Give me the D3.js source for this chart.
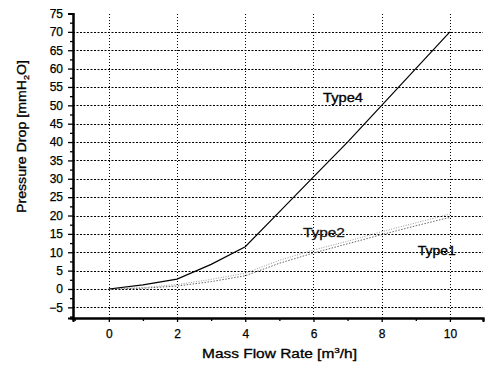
<!DOCTYPE html>
<html>
<head>
<meta charset="utf-8">
<script src="https://cdn.jsdelivr.net/npm/d3@7"></script>
<style>
  body { margin: 0; background: #fff; }
  text { font-family: "Liberation Sans", Arial, sans-serif; fill: #000; }
</style>
</head>
<body>
<div id="chart"></div>
<script>
// flow rate [m3/h]
let flow = [0, 1, 2, 3, 4, 5, 6, 7, 8, 9, 10];
// pressure drop [mmH2O]
let type4 = [0, 1.1, 2.7, 6.7, 11.5, 21, 30.5, 40, 50, 60, 70];
let type2 = [0, 0.4, 1.2, 2.6, 4.3, 7.8, 10.6, 13, 15.6, 18, 20.4];
let type1 = [0, 0.2, 0.8, 2.0, 3.6, 7.0, 9.8, 12.3, 14.8, 17.2, 19.5];
let xTicks = [0, 2, 4, 6, 8, 10];
let yTicks = [-5, 0, 5, 10, 15, 20, 25, 30, 35, 40, 45, 50, 55, 60, 65, 70, 75];

let width = 487, height = 371;

let x = d3.scaleLinear().domain([-1.05, 10.97]).range([73, 483]);
let y = d3.scaleLinear().domain([-7.9, 75]).range([318, 13.5]);

let svg = d3.select("#chart")
  .append("svg")
  .attr("width", width)
  .attr("height", height);

/* ------------------ Grid ------------------ */
svg.append("g")
  .selectAll("line")
  .data(yTicks.filter(d => d < 75))
  .enter()
  .append("line")
  .attr("x1", x.range()[0])
  .attr("x2", x.range()[1])
  .attr("y1", d => Math.round(y(d)) + 0.5)
  .attr("y2", d => Math.round(y(d)) + 0.5)
  .attr("stroke", "#000")
  .attr("stroke-width", 1)
  .attr("stroke-dasharray", "2,1.5");

svg.append("g")
  .selectAll("line")
  .data(xTicks)
  .enter()
  .append("line")
  .attr("x1", d => Math.round(x(d)) + 0.5)
  .attr("x2", d => Math.round(x(d)) + 0.5)
  .attr("y1", y.range()[0])
  .attr("y2", y.range()[1])
  .attr("stroke", "#000")
  .attr("stroke-width", 1)
  .attr("stroke-dasharray", "1,2");

/* ------------------ Axes ------------------ */
let yAxis = d3.axisLeft(y)
  .tickValues(yTicks)
  .tickSize(5)
  .tickPadding(5);
let yMinor = d3.axisLeft(y)
  .tickValues(yTicks.map(d => d - 2.5).filter(d => d > -7.9))
  .tickSize(3)
  .tickFormat("");

let xAxis = d3.axisBottom(x)
  .tickValues(xTicks)
  .tickSize(4)
  .tickPadding(7);
let xMinor = d3.axisBottom(x)
  .tickValues([-1, 1, 3, 5, 7, 9])
  .tickSize(3)
  .tickFormat("");

svg.append("g").attr("transform", "translate(" + x.range()[0] + ",0)").call(yAxis);
svg.append("g").attr("transform", "translate(" + x.range()[0] + ",0)").call(yMinor);
svg.append("g").attr("transform", "translate(0," + y.range()[0] + ")").call(xAxis);
svg.append("g").attr("transform", "translate(0," + y.range()[0] + ")").call(xMinor);

svg.selectAll(".domain")
  .attr("stroke", "#000")
  .attr("stroke-width", 2);
svg.selectAll(".tick line")
  .attr("stroke", "#000")
  .attr("stroke-width", 1.3);
svg.selectAll(".tick text")
  .style("font-family", "'Liberation Sans', Arial, sans-serif")
  .style("font-size", "12px")
  .attr("fill", "#000")
  .attr("stroke", "#000")
  .attr("stroke-width", 0.25);

/* ------------------ Lines ------------------ */
let line = d3.line()
  .x((d, i) => x(flow[i]))
  .y(d => y(d));

svg.append("path")
  .datum(type1)
  .attr("d", line)
  .attr("fill", "none")
  .attr("stroke", "#666")
  .attr("stroke-width", 1)
  .attr("stroke-dasharray", "1.5,1.5");

svg.append("path")
  .datum(type2)
  .attr("d", line)
  .attr("fill", "none")
  .attr("stroke", "#999")
  .attr("stroke-width", 1)
  .attr("stroke-dasharray", "1,1.5");

svg.append("path")
  .datum(type4)
  .attr("d", line)
  .attr("fill", "none")
  .attr("stroke", "#000")
  .attr("stroke-width", 1.2);

/* ------------------ Labels ------------------ */
function label(txt, vx, vy, len, color) {
  svg.append("text")
    .attr("x", x(vx))
    .attr("y", y(vy))
    .attr("textLength", len)
    .attr("lengthAdjust", "spacingAndGlyphs")
    .style("font-size", "12px")
    .attr("fill", color)
    .attr("stroke", color)
    .attr("stroke-width", 0.3)
    .text(txt);
}
label("Type4", 6.28, 50.9, 40, "#000");
label("Type2", 5.69, 14.15, 42, "#333");
label("Type1", 9.06, 9.25, 38, "#000");

/* ------------------ Axis titles ------------------ */
let xt = svg.append("text")
  .attr("x", 202)
  .attr("y", 358)
  .attr("textLength", 155)
  .attr("lengthAdjust", "spacingAndGlyphs")
  .attr("stroke", "#000")
  .attr("stroke-width", 0.3)
  .style("font-size", "12.5px");
xt.append("tspan").text("Mass Flow Rate [m");
xt.append("tspan").attr("dy", -5).style("font-size", "8px").text("3");
xt.append("tspan").attr("dy", 5).text("/h]");

let yt = svg.append("text")
  .attr("transform", "translate(26,213) rotate(-90)")
  .attr("textLength", 153)
  .attr("lengthAdjust", "spacingAndGlyphs")
  .attr("stroke", "#000")
  .attr("stroke-width", 0.3)
  .style("font-size", "12.5px");
yt.append("tspan").text("Pressure Drop [mmH");
yt.append("tspan").attr("dy", 3).style("font-size", "8px").text("2");
yt.append("tspan").attr("dy", -3).text("O]");
</script>
</body>
</html>
